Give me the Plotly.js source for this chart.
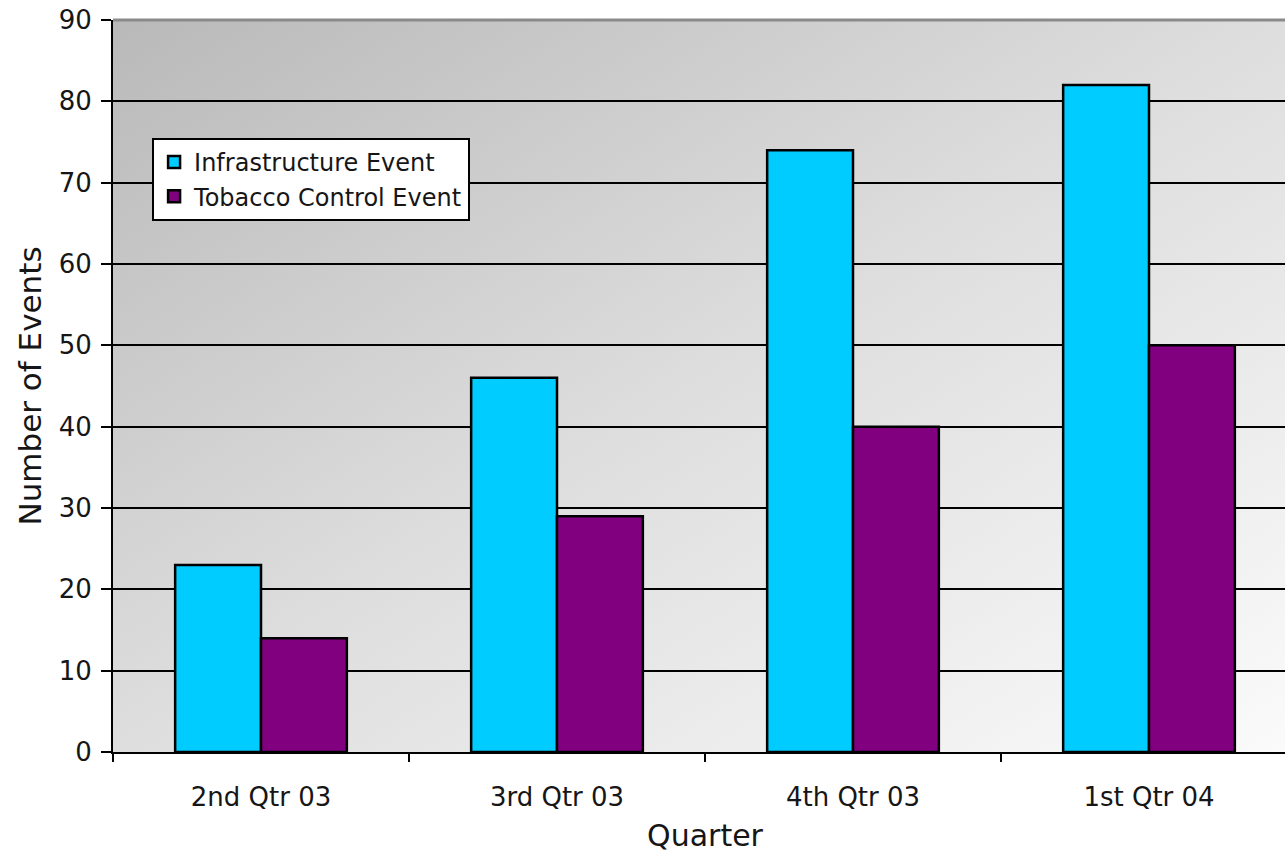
<!DOCTYPE html>
<html>
<head>
<meta charset="utf-8">
<script src="https://cdn.plot.ly/plotly-3.0.1.min.js"></script>
<style>
  html, body { margin: 0; padding: 0; background: #fff; overflow: hidden; }
  #chart { width: 1299px; height: 860px; }
</style>
</head>
<body>
<div id="chart"></div>
<script>
// Quarterly event counts
const quarters = ["2nd Qtr 03", "3rd Qtr 03", "4th Qtr 03", "1st Qtr 04"];
const infrastructure = [23, 46, 74, 82];
const tobacco = [14, 29, 40, 50];
const yTicks = [0, 10, 20, 30, 40, 50, 60, 70, 80, 90];

// Diagonal grey wash for the plotting area
const bgSvg =
  '<svg xmlns="http://www.w3.org/2000/svg" width="100" height="100" preserveAspectRatio="none">' +
  '<defs><linearGradient id="g" x1="0" y1="0" x2="1" y2="1">' +
  '<stop offset="0" stop-color="#b9b9b9"/>' +
  '<stop offset="0.5" stop-color="#dedede"/>' +
  '<stop offset="1" stop-color="#fbfbfb"/>' +
  '</linearGradient></defs>' +
  '<rect width="100" height="100" fill="url(#g)"/></svg>';
const bgUri = "data:image/svg+xml;base64," + btoa(bgSvg);

const family = "DejaVu Sans, Verdana, sans-serif";
const txt = (size) => ({ family: family, size: size, color: "#161616" });

const traces = [
  {
    type: "bar",
    name: "Infrastructure Event",
    legendgroup: "a",
    x: quarters,
    y: infrastructure,
    marker: { color: "#00ccff", line: { color: "#000", width: 2.5 } }
  },
  {
    type: "bar",
    name: "Tobacco Control Event",
    legendgroup: "b",
    x: quarters,
    y: tobacco,
    marker: { color: "#800080", line: { color: "#000", width: 2.5 } }
  }
];

const layout = {
  width: 1299,
  height: 860,
  margin: { l: 113, r: 2, t: 20, b: 108 },
  paper_bgcolor: "#fff",
  plot_bgcolor: "rgba(0,0,0,0)",
  font: txt(25),
  barmode: "group",
  bargap: 0.42,
  bargroupgap: 0,
  showlegend: true,
  legend: {
    x: 0.033, y: 0.839, xanchor: "left", yanchor: "top",
    bgcolor: "#fff", bordercolor: "#000", borderwidth: 2,
    font: txt(24),
    traceorder: "grouped",
    tracegroupgap: 0,
    itemwidth: 30
  },
  xaxis: {
    type: "category",
    tickson: "boundaries",
    ticks: "outside", ticklen: 8, tickwidth: 2, tickcolor: "#000",
    ticklabelstandoff: 21,
    showline: true, linecolor: "#000", linewidth: 2,
    showgrid: false,
    tickfont: txt(26),
    title: { text: "Quarter", font: txt(30), standoff: 14 }
  },
  yaxis: {
    range: [0, 90],
    tickvals: yTicks,
    ticktext: yTicks.map(String),
    ticks: "outside", ticklen: 10, tickwidth: 2, tickcolor: "#000",
    ticklabelstandoff: 4,
    showline: true, linecolor: "#000", linewidth: 2,
    showgrid: true, gridcolor: "#000", gridwidth: 2,
    zeroline: false,
    tickfont: txt(26),
    title: { text: "Number of Events", font: txt(31), standoff: 8 }
  },
  shapes: [
    {
      type: "line", xref: "paper", yref: "paper",
      x0: 0, x1: 1, y0: 1, y1: 1,
      line: { color: "#8a8a8a", width: 3 }
    }
  ],
  images: [
    {
      source: bgUri, xref: "paper", yref: "paper",
      x: 0, y: 1, sizex: 1, sizey: 1,
      xanchor: "left", yanchor: "top",
      sizing: "stretch", layer: "below"
    }
  ]
};

Plotly.newPlot("chart", traces, layout, { displayModeBar: false, responsive: false });
</script>
</body>
</html>
